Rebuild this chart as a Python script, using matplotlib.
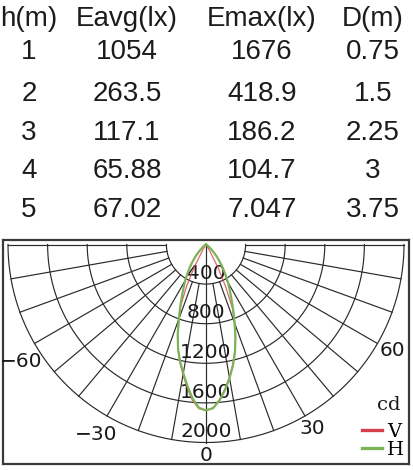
import numpy as np
import matplotlib as mpl
mpl.use('Agg')
from matplotlib import pyplot as plt

# Table values
tableHeader = ['h(m)', 'Eavg(lx)', 'Emax(lx)', 'D(m)']
heights = ['1', '2', '3', '4', '5']
eAvg = ['1054', '263.5', '117.1', '65.88', '67.02']
eMax = ['1676', '418.9', '186.2', '104.7', '7.047']
diam = ['0.75', '1.5', '2.25', '3', '3.75']

# Luminous intensity distribution (cd), angle 0 = straight down, -60..60 deg
angles = np.arange(-60, 60.1, 2.5)
intensityH = [0, 5, 12, 24, 42, 68, 100, 140, 185, 235, 290, 350, 420, 490,
              575, 680, 800, 950, 1090, 1210, 1320, 1440, 1560, 1650,
              1676,
              1655, 1580, 1480, 1370, 1255, 1130, 990, 845, 720, 610, 520,
              445, 372, 305, 248, 195, 148, 105, 72, 45, 26, 13, 5, 0]
intensityV = [0, 0, 0, 0, 0, 0, 0, 0, 0, 0, 0, 20, 80, 250,
              460, 665, 800, 950, 1095, 1220, 1335, 1460, 1580, 1660,
              1676,
              1650, 1570, 1470, 1360, 1245, 1120, 985, 840, 700, 470, 260,
              80, 20, 0, 0, 0, 0, 0, 0, 0, 0, 0, 0, 0]

ringValues = [400, 800, 1200, 1600, 2000]
angleTicks = [-60, -30, 0, 30, 60]
angleTickPos = [(-57.7, 2204), (-30, 2211), (0, 2136), (30, 2151), (60.3, 2170)]


def toXY(theta, r):
    t = np.radians(theta)
    return np.asarray(r) * np.sin(t), -np.asarray(r) * np.cos(t)


W, H = 414, 470
fig = plt.figure(figsize=(W / 100, H / 100), dpi=100)

# ---- table
colX = [29, 127, 262, 373]
headBase = 26
rowBase = [59, 101, 140, 178, 217]
tprops = dict(family='Liberation Sans', fontsize=20, color='#1c1c1c',
              ha='center', va='baseline')
for x, s in zip(colX, tableHeader):
    fig.text(x / W, 1 - headBase / H, s, **tprops)
for i, row in enumerate(zip(heights, eAvg, eMax, diam)):
    for x, s in zip(colX, row):
        fig.text(x / W, 1 - rowBase[i] / H, s, **tprops)

# ---- polar diagram in a plain axes (units: cd)
cx, cy = 206., 244.5
left, right, top, bottom = 3.5, 409., 239.5, 464.
scale = 2000. / 198.  # cd per pixel
ax = fig.add_axes([left / W, 1 - bottom / H, (right - left) / W, (bottom - top) / H])
ax.set_xlim((left - cx) * scale, (right - cx) * scale)
ax.set_ylim(-(bottom - cy) * scale, (cy - top) * scale)
ax.set_xticks([])
ax.set_yticks([])
for sp in ax.spines.values():
    sp.set_linewidth(1.6)
    sp.set_color('#3a3a3a')

gridKw = dict(color='#2a2a2a', lw=0.85, zorder=1)
th = np.linspace(-90, 90, 361)
for r in ringValues:
    ax.plot(*toXY(th, r), **gridKw)
for a in range(-90, 91, 10):
    r0 = 0 if a == 0 else ringValues[0]
    ax.plot(*toXY(np.array([a, a]), [r0, ringValues[-1]]), **gridKw)

lprops = dict(family='DejaVu Sans', fontsize=14.5, color='#1a1a1a',
              ha='center', va='center')
for r in ringValues:
    ax.text(0, -(r - 110), str(r), zorder=2, **lprops)
for lab, (a, r) in zip(angleTicks, angleTickPos):
    x, y = toXY(a, r)
    ax.text(x, y, ('%d' % lab).replace('-', '\u2212'), **lprops)

ax.plot(*toXY(angles, intensityV), color='#d6404c', lw=0.9, alpha=0.8,
        label='V', zorder=3)
ax.plot(*toXY(angles, intensityH), color='#7cb356', lw=1.6, label='H', zorder=4)

serif = {'family': 'DejaVu Serif', 'size': 14}
leg = ax.legend(loc='lower right', frameon=False, prop=serif,
                handlelength=1.05, handletextpad=0.25, labelspacing=0.0,
                borderaxespad=0.15, borderpad=0.1)
for ln in leg.get_lines():
    ln.set_linewidth(2.4)
    ln.set_alpha(1)
ax.text(1 - 8 / 405, 1 - (405 - 239.5) / 224.5, 'cd', transform=ax.transAxes,
        ha='right', va='center', fontdict=serif, color='#1a1a1a')

fig.savefig('out.png', dpi=100)
